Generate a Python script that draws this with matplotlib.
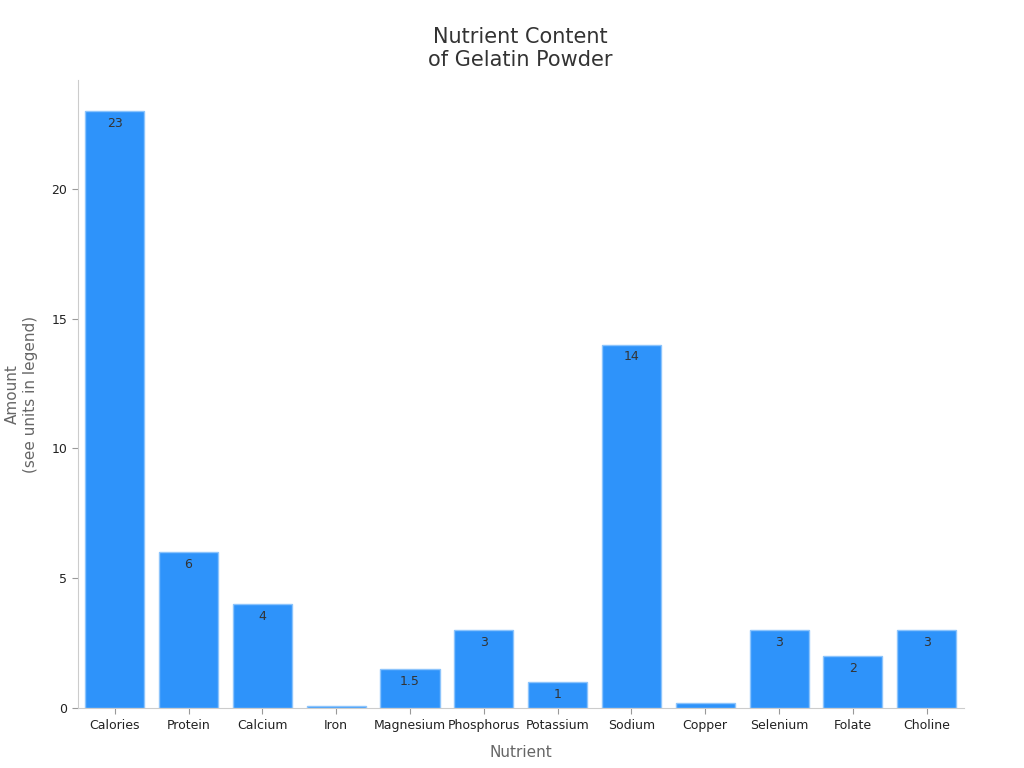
import matplotlib.pyplot as plt
import numpy as np

nutrients = ["Calories", "Protein", "Calcium", "Iron", "Magnesium", "Phosphorus",
             "Potassium", "Sodium", "Copper", "Selenium", "Folate", "Choline"]
amounts = [23, 6, 4, 0.08, 1.5, 3, 1, 14, 0.2, 3, 2, 3]
labels = ["23", "6", "4", "0.08", "1.5", "3", "1", "14", "0.2", "3", "2", "3"]


def main():
    fig, ax = plt.subplots(figsize=(10.24, 7.68), dpi=100)
    plt.subplots_adjust(left=0.076, right=0.941, top=0.896, bottom=0.078)

    x = np.arange(len(nutrients))
    ax.bar(x, amounts, width=0.8, color="#2E93FA", edgecolor="#8CC4FC", linewidth=1)

    # value labels just inside the top of each bar
    for xi, val, lab in zip(x, amounts, labels):
        ax.annotate(lab, (xi, val), xytext=(0, -4), textcoords="offset points",
                    ha="center", va="top", fontsize=9, color="#333333", clip_on=True)

    ax.set_xlim(-0.5, len(nutrients) - 0.5)
    ax.set_ylim(0, 24.2)
    ax.set_xticks(x)
    ax.set_xticklabels(nutrients, fontsize=9, color="#222222")
    ax.set_yticks([0, 5, 10, 15, 20])
    ax.tick_params(axis="y", labelsize=9, colors="#222222")
    ax.tick_params(axis="both", color="#999999", length=4)

    for side in ["top", "right"]:
        ax.spines[side].set_visible(False)
    for side in ["left", "bottom"]:
        ax.spines[side].set_color("#cccccc")

    ax.set_xlabel("Nutrient", fontsize=11, color="#666666", labelpad=10)
    ax.set_ylabel("Amount\n(see units in legend)", fontsize=11, color="#666666", labelpad=10)
    ax.set_title("Nutrient Content\nof Gelatin Powder", fontsize=15, color="#333333", pad=10)

    fig.savefig("out.png")


if __name__ == '__main__':
    main()
